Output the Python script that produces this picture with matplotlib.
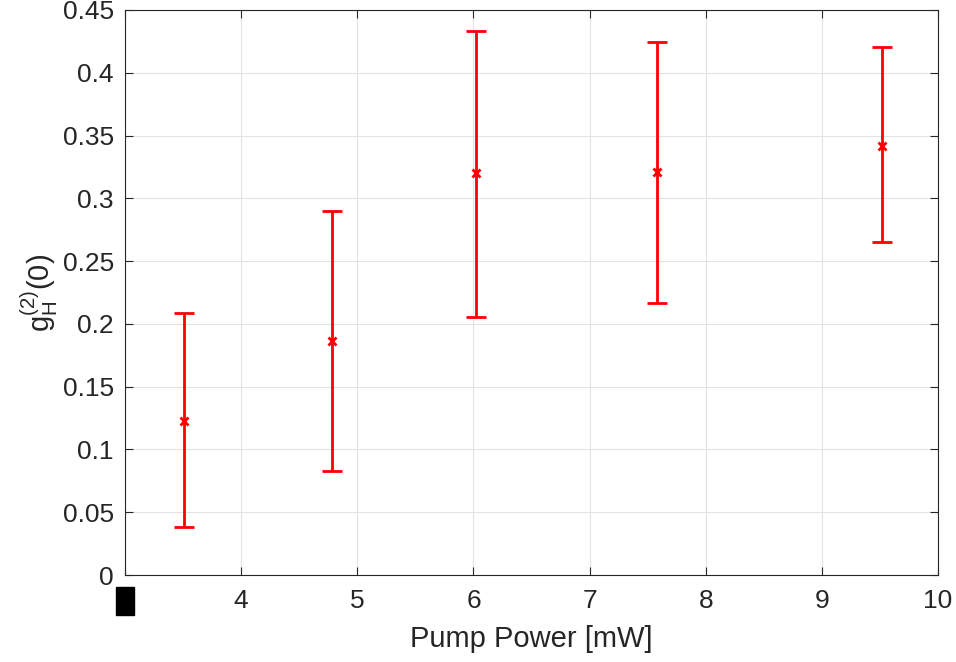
import numpy as np
import matplotlib.pyplot as plt

# Data
pump_power = [3.51, 4.78, 6.02, 7.58, 9.52]
g2_h = [0.123, 0.186, 0.320, 0.321, 0.342]
err_low = [0.0382, 0.0828, 0.2055, 0.2166, 0.2652]
err_high = [0.2087, 0.290, 0.4333, 0.4245, 0.4205]

x_ticks = [3, 4, 5, 6, 7, 8, 9, 10]
x_tick_labels = ["3", "4", "5", "6", "7", "8", "9", "10"]
y_ticks = [0, 0.05, 0.1, 0.15, 0.2, 0.25, 0.3, 0.35, 0.4, 0.45]
y_tick_labels = ["0", "0.05", "0.1", "0.15", "0.2", "0.25", "0.3", "0.35", "0.4", "0.45"]

plt.rcParams['font.family'] = ['Liberation Sans', 'DejaVu Sans']

fig = plt.figure(figsize=(9.56, 6.62), dpi=100)
ax = fig.add_axes([0.1308, 0.1314, 0.8504, 0.8535])

y = np.array(g2_h)
yerr = [y - np.array(err_low), np.array(err_high) - y]
ax.errorbar(pump_power, y, yerr=yerr, fmt='x', color='red', ecolor='red',
            markersize=6, markeredgewidth=2, elinewidth=2, capsize=7, capthick=2)

ax.set_xlim(3, 10)
ax.set_ylim(0, 0.45)
ax.set_xticks(x_ticks)
ax.set_xticklabels(x_tick_labels)
ax.set_yticks(y_ticks)
ax.set_yticklabels(y_tick_labels)

ax.tick_params(direction='in', labelsize=19, colors='#262626', length=6, width=0.8,
               top=True, right=True)
ax.tick_params(axis='x', pad=10)
ax.tick_params(axis='y', pad=8)

# the first x tick label is blacked out in the reference
first = ax.get_xticklabels()[0]
first.set_color('black')
first.set_bbox(dict(facecolor='black', edgecolor='black', pad=1.5))

ax.grid(True, color='#e3e3e3', linewidth=0.8)
ax.set_axisbelow(True)
for s in ax.spines.values():
    s.set_color('#262626')
    s.set_linewidth(0.8)

ax.set_xlabel("Pump Power [mW]", fontsize=21, color='#262626', labelpad=9)
ax.set_ylabel(r"$\mathregular{g_H^{(2)}(0)}$", fontsize=21, color='#262626', labelpad=2)

fig.savefig("out.png", dpi=100)
